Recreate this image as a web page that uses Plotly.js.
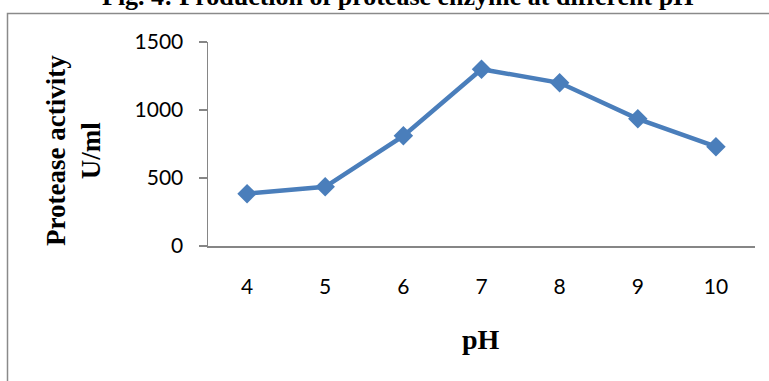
<!DOCTYPE html>
<html>
<head>
<meta charset="utf-8">
<script src="https://cdn.plot.ly/plotly-3.0.1.min.js"></script>
<style>
  html, body { margin: 0; padding: 0; background: #ffffff; }
  #chart { width: 769px; height: 381px; }
</style>
</head>
<body>
<div id="chart"></div>
<script>
// Protease activity measured across the pH range
const phLabels = ['4', '5', '6', '7', '8', '9', '10'];
const activity = [385, 435, 810, 1300, 1200, 935, 730];
const yTicks = [0, 500, 1000, 1500];

const chartTitle = 'Fig. 4: Production of protease enzyme at different pH';
const yTitle = 'Protease activity<br>U/ml';
const xTitle = 'pH';

// Plot box (pixels) and helpers to place decorations in paper space
const W = 769, H = 381;
const M = { l: 208, r: 14, t: 42, b: 135 };
const plotW = W - M.l - M.r, plotH = H - M.t - M.b;
const px = x => (x - M.l) / plotW;
const py = y => (H - M.b - y) / plotH;

const serifBold = { family: 'Liberation Serif, Times New Roman, serif', weight: 'bold', color: '#000000' };
const axisGrey = '#868686';
const seriesBlue = '#4A7EBB';

const trace = {
  type: 'scatter',
  mode: 'lines+markers',
  x: phLabels,
  y: activity,
  line: { color: seriesBlue, width: 4.5 },
  marker: { symbol: 'diamond', size: 15, color: seriesBlue },
  cliponaxis: false,
  hoverinfo: 'x+y'
};

const layout = {
  width: W,
  height: H,
  margin: M,
  paper_bgcolor: '#ffffff',
  plot_bgcolor: '#ffffff',
  showlegend: false,
  xaxis: {
    type: 'category',
    range: [-0.5, phLabels.length - 0.5],
    showgrid: false,
    zeroline: false,
    showline: true,
    linecolor: axisGrey,
    linewidth: 1.5,
    ticks: '',
    ticklabelstandoff: 21,
    tickfont: { family: 'Lato, Open Sans, sans-serif', size: 21, color: '#000000' },
    fixedrange: true
  },
  yaxis: {
    range: [0, 1500],
    tickvals: yTicks,
    ticktext: yTicks.map(String),
    showgrid: false,
    zeroline: false,
    showline: true,
    linecolor: axisGrey,
    linewidth: 1.5,
    ticks: 'outside',
    ticklen: 8,
    tickwidth: 1.5,
    tickcolor: axisGrey,
    ticklabelstandoff: 11,
    tickfont: { family: 'Lato, Open Sans, sans-serif', size: 21, color: '#000000' },
    fixedrange: true
  },
  shapes: [
    {
      // chart-area frame
      type: 'rect', xref: 'paper', yref: 'paper',
      x0: px(7.5), x1: px(W + 40), y0: py(H + 40), y1: py(13.5),
      line: { color: '#8a8a8a', width: 1.5 },
      fillcolor: 'rgba(0,0,0,0)',
      layer: 'below'
    }
  ],
  annotations: [
    {
      text: chartTitle,
      xref: 'paper', yref: 'paper',
      x: px(397.5), y: py(-3),
      xanchor: 'center', yanchor: 'middle',
      showarrow: false,
      font: Object.assign({ size: 26 }, serifBold)
    },
    {
      text: yTitle,
      xref: 'paper', yref: 'paper',
      x: px(73), y: py(151),
      xanchor: 'center', yanchor: 'middle',
      textangle: -90,
      showarrow: false,
      font: Object.assign({ size: 27 }, serifBold)
    },
    {
      text: xTitle,
      xref: 'paper', yref: 'paper',
      x: px(481), y: py(339),
      xanchor: 'center', yanchor: 'middle',
      showarrow: false,
      font: Object.assign({ size: 28 }, serifBold)
    }
  ]
};

Plotly.newPlot('chart', [trace], layout, { displayModeBar: false, staticPlot: true });
</script>
</body>
</html>
